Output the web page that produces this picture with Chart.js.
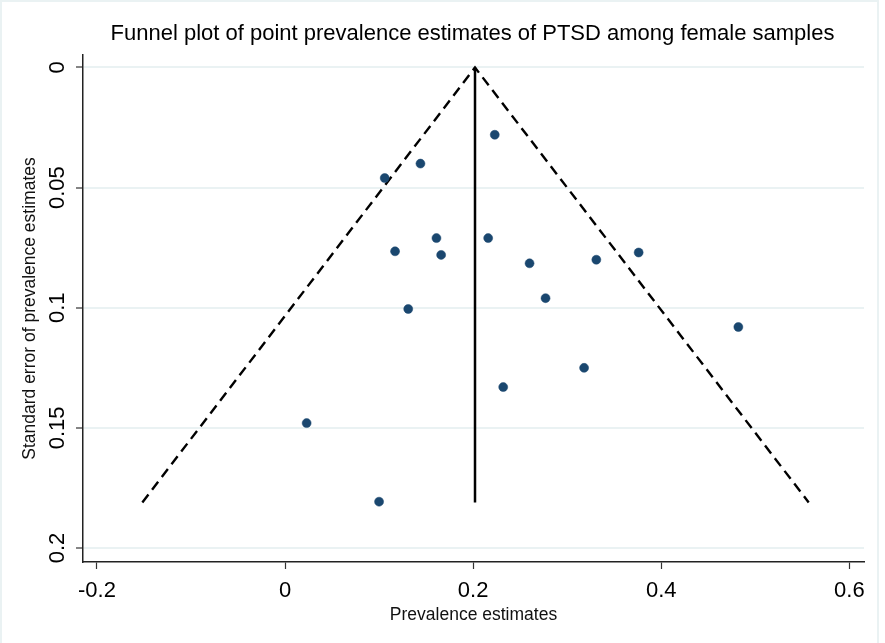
<!DOCTYPE html>
<html>
<head>
<meta charset="utf-8">
<script src="https://cdn.jsdelivr.net/npm/chart.js@4"></script>
<style>
  body { margin: 0; background: #fff; }
  #wrap { width: 885px; height: 643px; }
</style>
</head>
<body>
<div id="wrap"><canvas id="funnel" width="885" height="643"></canvas></div>
<script>
// prevalence estimate (x) and its standard error (y) for each study
const prevalence = [0.223, 0.144, 0.106, 0.161, 0.216, 0.117, 0.166, 0.260, 0.331, 0.376,
                    0.277, 0.131, 0.482, 0.318, 0.232, 0.023, 0.100];
const stdError   = [0.028, 0.040, 0.046, 0.071, 0.071, 0.0765, 0.078, 0.0815, 0.080, 0.077,
                    0.096, 0.1005, 0.108, 0.125, 0.133, 0.148, 0.1807];

// pooled estimate line and pseudo 95% confidence limits
const pooledX = [0.202, 0.202];
const pooledY = [0, 0.181];
const limitX  = [-0.1517, 0.202, 0.5568];
const limitY  = [0.181, 0, 0.181];

const xTicks = [-0.2, 0, 0.2, 0.4, 0.6];
const yTicks = [0, 0.05, 0.1, 0.15, 0.2];

const titleText = "Funnel plot of point prevalence estimates of PTSD among female samples";
const xTitle = "Prevalence estimates";
const yTitle = "Standard error of prevalence estimates";

const FONT = '"Liberation Sans", Arial, sans-serif';
const zip = (xs, ys) => xs.map((x, i) => ({ x: x, y: ys[i] }));

const textPlugin = {
    id: 'stataText',
    beforeDraw(chart) {
        const c = chart.ctx;
        c.save();
        c.fillStyle = '#fff';
        c.fillRect(0, 0, chart.width, chart.height);
        c.strokeStyle = '#eaf2f3';
        c.lineWidth = 2;
        c.strokeRect(1, 1, 877, 700);
        c.restore();
    },
    afterDraw(chart) {
        const c = chart.ctx;
        const xs = chart.scales.x, ys = chart.scales.y;
        const area = chart.chartArea;
        c.save();
        c.fillStyle = '#000';
        c.textBaseline = 'alphabetic';

        // title
        c.font = '22px ' + FONT;
        c.textAlign = 'center';
        c.fillText(titleText, 472.5, 40);

        // x tick labels
        xTicks.forEach(v => {
            c.fillText(String(v), xs.getPixelForValue(v), 597);
        });

        // y tick labels, rotated
        yTicks.forEach(v => {
            c.save();
            c.translate(63.5, ys.getPixelForValue(v));
            c.rotate(-Math.PI / 2);
            c.fillText(String(v), 0, 0);
            c.restore();
        });

        // axis titles
        c.font = '17.5px ' + FONT;
        c.fillStyle = '#111';
        c.fillText(xTitle, (area.left + area.right) / 2, 620);
        c.save();
        c.translate(35, (area.top + area.bottom) / 2);
        c.rotate(-Math.PI / 2);
        c.fillText(yTitle, 0, 0);
        c.restore();
        c.restore();
    }
};

new Chart(document.getElementById('funnel'), {
    type: 'scatter',
    data: {
        datasets: [{
            label: 'studies',
            data: zip(prevalence, stdError),
            pointRadius: 4.5,
            pointBackgroundColor: '#1a476f',
            pointBorderColor: '#1a476f',
            pointBorderWidth: 0.5
        }, {
            label: 'pooled',
            data: zip(pooledX, pooledY),
            showLine: true,
            borderColor: '#000',
            borderWidth: 2.5,
            pointRadius: 0
        }, {
            label: 'limits',
            data: zip(limitX, limitY),
            showLine: true,
            borderColor: '#000',
            borderWidth: 2.4,
            borderDash: [10, 6],
            pointRadius: 0
        }]
    },
    options: {
        responsive: false,
        animation: false,
        devicePixelRatio: 1,
        layout: { padding: { left: 76, right: 21, top: 55, bottom: 74 } },
        plugins: {
            legend: { display: false },
            tooltip: { enabled: false }
        },
        scales: {
            x: {
                type: 'linear',
                min: -0.2148,
                max: 0.6156,
                afterBuildTicks: s => { s.ticks = xTicks.map(v => ({ value: v })); },
                afterFit: s => { s.height = 7; },
                ticks: { display: false },
                grid: {
                    drawOnChartArea: false,
                    drawTicks: true,
                    tickLength: 7,
                    tickColor: '#333',
                    tickWidth: 1.2
                },
                border: { display: true, color: '#222', width: 1.5 }
            },
            y: {
                type: 'linear',
                reverse: true,
                min: -0.0052,
                max: 0.2058,
                afterBuildTicks: s => { s.ticks = yTicks.map(v => ({ value: v })); },
                afterFit: s => { s.width = 7; },
                ticks: { display: false },
                grid: {
                    color: '#eaf2f3',
                    lineWidth: 2,
                    drawTicks: true,
                    tickLength: 7,
                    tickColor: '#333',
                    tickWidth: 1.2
                },
                border: { display: true, color: '#222', width: 1.5 }
            }
        }
    },
    plugins: [textPlugin]
});
</script>
</body>
</html>
